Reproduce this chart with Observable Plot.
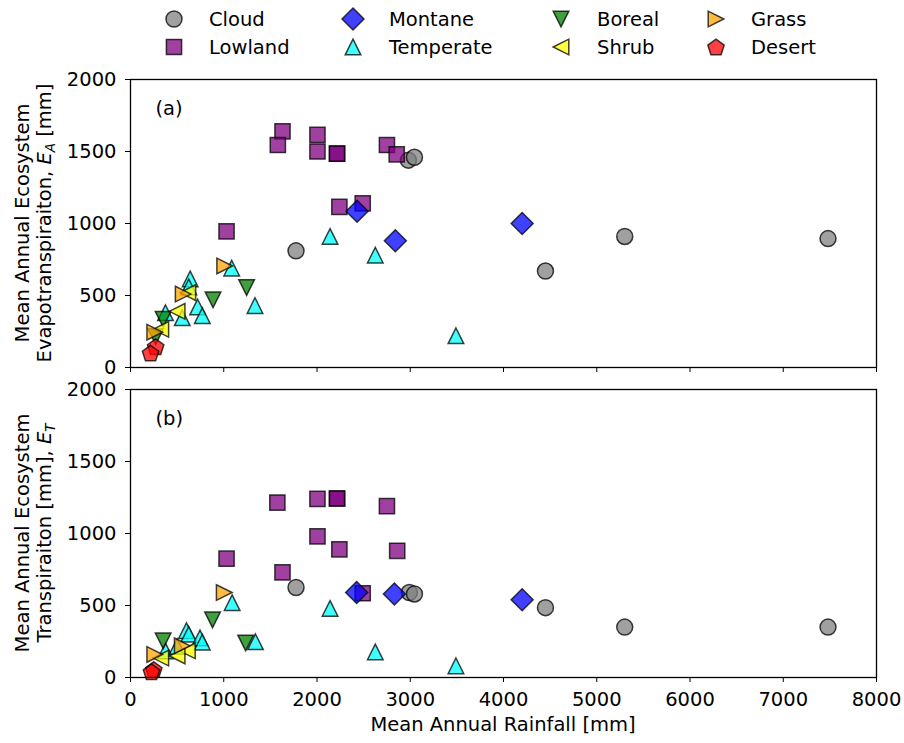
<!DOCTYPE html>
<html><head><meta charset="utf-8">
<script src="https://cdn.jsdelivr.net/npm/d3@7"></script>
<script src="https://cdn.jsdelivr.net/npm/@observablehq/plot@0.6"></script>
<style>
body{margin:0;background:#fff;font-family:"DejaVu Sans",sans-serif;}
#wrap{position:relative;width:904px;height:743px;overflow:hidden;}
#legend{position:absolute;left:0;top:0;}
#pa{position:absolute;left:0;top:69px;}
#pb{position:absolute;left:0;top:379px;}
</style></head><body>
<div id="wrap"><svg id="legend" width="904" height="66"></svg><div id="pa"></div><div id="pb"></div></div>
<script>
// ---- categories & styles ----
const biomes = ["Cloud","Lowland","Montane","Temperate","Boreal","Shrub","Grass","Desert"];
const biomeColors = ["#808080","#800080","#0000ff","#00ffff","#008000","#ffff00","#ffa500","#ff0000"];

// ---- panel (a): mean annual evapotranspiration E_A ----
const aBiome = [
 "Cloud","Cloud","Cloud","Cloud","Cloud","Cloud",
 "Lowland","Lowland","Lowland","Lowland","Lowland","Lowland","Lowland","Lowland","Lowland","Lowland","Lowland",
 "Montane","Montane","Montane",
 "Temperate","Temperate","Temperate","Temperate","Temperate","Temperate","Temperate","Temperate","Temperate","Temperate","Temperate",
 "Boreal","Boreal","Boreal","Boreal",
 "Shrub","Shrub","Shrub",
 "Grass","Grass","Grass",
 "Desert","Desert"];
const aRain = [
 1775,2980,3045,4450,5300,7480,
 1630,1580,2005,2005,2215,2215,2750,2855,2240,2490,1030,
 2430,2840,4200,
 2140,2625,3490,1085,1335,640,625,720,770,555,375,
 1245,885,350,270,
 615,500,325,
 1010,565,260,
 270,215];
const aEA = [
 810,1440,1460,670,910,895,
 1640,1545,1615,1500,1485,1485,1545,1480,1115,1140,945,
 1085,880,1000,
 910,780,220,690,430,615,560,420,360,345,380,
 555,470,335,215,
 520,390,265,
 705,510,245,
 145,100];

// ---- panel (b): mean annual transpiration E_T ----
const bBiome = [
 "Cloud","Cloud","Cloud","Cloud","Cloud","Cloud",
 "Lowland","Lowland","Lowland","Lowland","Lowland","Lowland","Lowland","Lowland","Lowland","Lowland","Lowland",
 "Montane","Montane","Montane",
 "Temperate","Temperate","Temperate","Temperate","Temperate","Temperate","Temperate","Temperate","Temperate","Temperate","Temperate",
 "Boreal","Boreal","Boreal",
 "Shrub","Shrub","Shrub",
 "Grass","Grass","Grass",
 "Desert","Desert"];
const bRain = [
 1775,2990,3045,4450,5300,7480,
 1575,2005,2215,2215,2750,2005,2240,2860,1030,1630,2490,
 2425,2830,4200,
 1090,2140,2625,3490,1340,600,625,745,770,375,500,
 880,1235,350,
 610,500,325,
 1005,555,260,
 250,225];
const bET = [
 625,590,580,485,350,350,
 1215,1240,1243,1243,1190,980,890,880,825,730,585,
 590,580,540,
 520,480,178,81,248,325,300,275,245,185,215,
 400,240,255,
 185,150,135,
 590,220,160,
 55,40];

// ---- axis ticks ----
const xTicks = [0,1000,2000,3000,4000,5000,6000,7000,8000];
const yTicks = [0,500,1000,1500,2000];

// ---- matplotlib-like marker shapes ----
function shape(points){
  return {draw(ctx, size){
    const k = Math.sqrt(size/Math.PI)/8;
    ctx.moveTo(points[0][0]*k, points[0][1]*k);
    for (let i=1;i<points.length;i++) ctx.lineTo(points[i][0]*k, points[i][1]*k);
    ctx.closePath();
  }};
}
const circleSym = {draw(ctx,size){const r=Math.sqrt(size/Math.PI); ctx.moveTo(r,0); ctx.arc(0,0,r,0,2*Math.PI);}};
const pent = d3.range(5).map(i=>{const a=-Math.PI/2+i*2*Math.PI/5; return [8.6*Math.cos(a), 8.6*Math.sin(a)+0.8];});
const symbols = [
  circleSym,
  shape([[-7.6,-7.6],[7.6,-7.6],[7.6,7.6],[-7.6,7.6]]),
  shape([[0,-11],[11,0],[0,11],[-11,0]]),
  shape([[0,-7.8],[7.8,7.8],[-7.8,7.8]]),
  shape([[0,7.8],[7.8,-7.8],[-7.8,-7.8]]),
  shape([[-7.8,0],[7.8,-7.8],[7.8,7.8]]),
  shape([[7.8,0],[-7.8,-7.8],[-7.8,7.8]]),
  shape(pent)
];

const FS = "19.5px";
const fontStyle = {fontFamily:"DejaVu Sans", fontSize:FS, color:"black", background:"white", overflow:"visible"};

function makePanel(bArr, rArr, vArr, label, showX, height, marginBottom){
  const data = rArr.map((r,i)=>({biome:bArr[i], rain:r, val:vArr[i]}));
  const marks = [
    Plot.axisY({ticks:yTicks, tickSize:5, tickPadding:9, tickFormat:d=>String(d), label:null}),
    Plot.axisX({ticks:xTicks, tickSize:5, tickPadding:10, tickFormat: showX ? (d=>String(d)) : (()=>""), label:null}),
  ];
  biomes.forEach((b,j)=>{
    marks.push(Plot.dot(data.filter(d=>d.biome===b), {
      x:"rain", y:"val", symbol:symbols[j], r:8,
      fill:biomeColors[j], fillOpacity:0.75,
      stroke:"black", strokeOpacity:0.75, strokeWidth:1.5
    }));
  });
  marks.push(Plot.frame({stroke:"black", strokeWidth:1.3}));
  marks.push(Plot.text([label], {text:d=>d, frameAnchor:"top-left", dx:25, dy:29, textAnchor:"start", lineAnchor:"middle", fontSize:19.5}));
  return Plot.plot({
    width:904, height, marginLeft:130, marginRight:28, marginTop:10, marginBottom,
    x:{domain:[0,8000]}, y:{domain:[0,2000]},
    style:fontStyle,
    marks
  });
}

function yLabel(svg, cy, line1, line2, sub){
  const s = d3.select(svg);
  s.append("text").attr("transform",`translate(29,${cy}) rotate(-90)`)
    .attr("text-anchor","middle").attr("font-size",FS).attr("fill","black").text(line1);
  const t = s.append("text").attr("transform",`translate(51,${cy}) rotate(-90)`)
    .attr("text-anchor","middle").attr("font-size",FS).attr("fill","black");
  t.append("tspan").text(line2[0]);
  t.append("tspan").attr("font-style","italic").text("E");
  t.append("tspan").attr("font-style","italic").attr("font-size","13.5px").attr("dy","4").text(sub);
  if (line2[1]) t.append("tspan").attr("dy","-4").text(line2[1]);
}

const pa = makePanel(aBiome, aRain, aEA, "(a)", false, 310, 12);
yLabel(pa, 154, "Mean Annual Ecosystem", ["Evapotranspiraiton, ", " [mm]"], "A");
document.getElementById("pa").appendChild(pa);

const pb = makePanel(bBiome, bRain, bET, "(b)", true, 364, 66);
yLabel(pb, 154, "Mean Annual Ecosystem", ["Transpiraiton [mm], ", ""], "T");
d3.select(pb).append("text").attr("x",503).attr("y",352).attr("text-anchor","middle")
  .attr("font-size",FS).attr("fill","black").text("Mean Annual Rainfall [mm]");
document.getElementById("pb").appendChild(pb);

// ---- legend (column-major, 4 columns) ----
const leg = d3.select("#legend").attr("font-family","DejaVu Sans").attr("font-size",FS);
const colSym = [174,353,561,716], colTxt = [209,389,597,751], rowY = [19,47];
biomes.forEach((b,j)=>{
  const c = Math.floor(j/2), r = j%2;
  leg.append("path").attr("transform",`translate(${colSym[c]},${rowY[r]})`)
    .attr("d", d3.symbol(symbols[j], Math.PI*64)())
    .attr("fill",biomeColors[j]).attr("fill-opacity",0.75)
    .attr("stroke","black").attr("stroke-opacity",0.75).attr("stroke-width",1.5);
  leg.append("text").attr("x",colTxt[c]).attr("y",rowY[r]).attr("dy","0.35em").attr("fill","black").text(b);
});
</script>
</body></html>
